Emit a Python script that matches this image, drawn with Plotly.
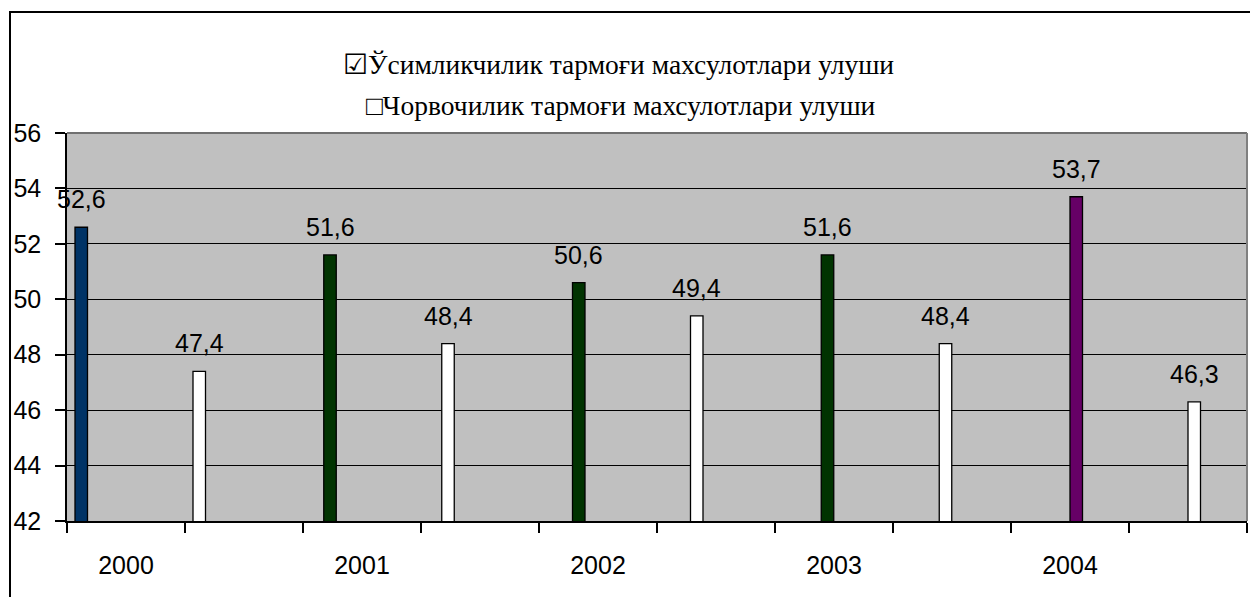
import plotly.graph_objects as go

years = ["2000", "2001", "2002", "2003", "2004"]
crop_share = [52.6, 51.6, 50.6, 51.6, 53.7]
livestock_share = [47.4, 48.4, 49.4, 48.4, 46.3]
crop_colors = ["#003366", "#003300", "#003300", "#003300", "#660066"]
livestock_color = "#FFFFFF"
legend_lines = [
    "\u2611\u040e\u0441\u0438\u043c\u043b\u0438\u043a\u0447\u0438\u043b\u0438\u043a \u0442\u0430\u0440\u043c\u043e\u0493\u0438 \u043c\u0430\u0445\u0441\u0443\u043b\u043e\u0442\u043b\u0430\u0440\u0438 \u0443\u043b\u0443\u0448\u0438",
    "\u25a1\u0427\u043e\u0440\u0432\u043e\u0447\u0438\u043b\u0438\u043a \u0442\u0430\u0440\u043c\u043e\u0493\u0438 \u043c\u0430\u0445\u0441\u0443\u043b\u043e\u0442\u043b\u0430\u0440\u0438 \u0443\u043b\u0443\u0448\u0438",
]
y_ticks = [42, 44, 46, 48, 50, 52, 54, 56]

# category keys: two per year (crop slot, livestock slot)
cat_keys = []
cat_text = []
for y in years:
    cat_keys += [y + "-a", y + "-b"]
    cat_text += [y, ""]

W, H = 1250, 597
L, R, T, B = 67, 3, 133, 76
plot_w = W - L - R
plot_h = H - T - B
cat_px = plot_w / len(cat_keys)
first_off_px = 8.0
slot_px = 12.75
bar_w = 12.5 / cat_px

fig = go.Figure()
annotations = []
for k, y in enumerate(years):
    off = -0.5 + (first_off_px + slot_px * k) / cat_px
    fig.add_trace(go.Bar(
        x=[y + "-a", y + "-b"],
        y=[crop_share[k], livestock_share[k]],
        marker=dict(color=[crop_colors[k], livestock_color],
                    line=dict(color="black", width=1.3)),
        offset=off,
        width=bar_w,
        showlegend=False,
        hoverinfo="skip",
    ))
    for j, val in enumerate([crop_share[k], livestock_share[k]]):
        idx = 2 * k + j
        annotations.append(dict(
            x=idx + off + bar_w / 2, y=val, xref="x", yref="y",
            text=f"{val:.1f}".replace(".", ","),
            showarrow=False, yanchor="bottom", xanchor="center",
            yshift=12,
            font=dict(family="Liberation Sans, Arial", size=25, color="black"),
        ))

legend_px = [(618, 47), (621, 88)]
for line, (px, py) in zip(legend_lines, legend_px):
    annotations.append(dict(
        x=(px - L) / plot_w, y=1 + (T - py) / plot_h, xref="paper", yref="paper",
        text=line, showarrow=False,
        font=dict(family="Liberation Serif, Times New Roman, DejaVu Serif", size=27.5, color="black"),
    ))

fig.update_layout(
    width=W, height=H,
    margin=dict(l=L, r=R, t=T, b=B, pad=0),
    paper_bgcolor="white",
    plot_bgcolor="#C0C0C0",
    barmode="overlay",
    annotations=annotations,
    font=dict(family="Liberation Sans, Arial", size=25, color="black"),
    shapes=[
        # outer chart border
        dict(type="rect", xref="paper", yref="paper",
             x0=(10 - L) / plot_w, x1=1.2, y0=-0.5, y1=1 + (T - 12) / plot_h,
             line=dict(color="black", width=2), fillcolor="rgba(0,0,0,0)", layer="above"),
        # plot area top & right border (gray)
        dict(type="line", xref="paper", yref="paper", x0=0, x1=1, y0=1, y1=1,
             line=dict(color="#707070", width=2), layer="above"),
        dict(type="line", xref="paper", yref="paper", x0=1, x1=1, y0=0, y1=1,
             line=dict(color="#808080", width=2), layer="above"),
    ],
)
fig.update_xaxes(
    type="category",
    categoryorder="array", categoryarray=cat_keys,
    tickvals=cat_keys, ticktext=cat_text,
    range=[-0.5, len(cat_keys) - 0.5],
    tickson="boundaries",
    ticks="outside", ticklen=10, tickwidth=1.5, tickcolor="black",
    showline=True, linecolor="black", linewidth=1.5,
    showgrid=False,
    ticklabelstandoff=21,
    tickfont=dict(family="Liberation Sans, Arial", size=25, color="black"),
    fixedrange=True,
)
fig.update_yaxes(
    range=[42, 56],
    tickvals=y_ticks,
    ticks="outside", ticklen=10, tickwidth=1.5, tickcolor="black",
    showline=True, linecolor="black", linewidth=1.5,
    showgrid=True, gridcolor="black", gridwidth=1.3,
    zeroline=False,
    ticklabelstandoff=9,
    tickfont=dict(family="Liberation Sans, Arial", size=25, color="black"),
    fixedrange=True,
)

fig.write_html("out.html", config={"displayModeBar": False},
               post_script="document.body.style.margin='0px';document.body.style.overflow='hidden';")
